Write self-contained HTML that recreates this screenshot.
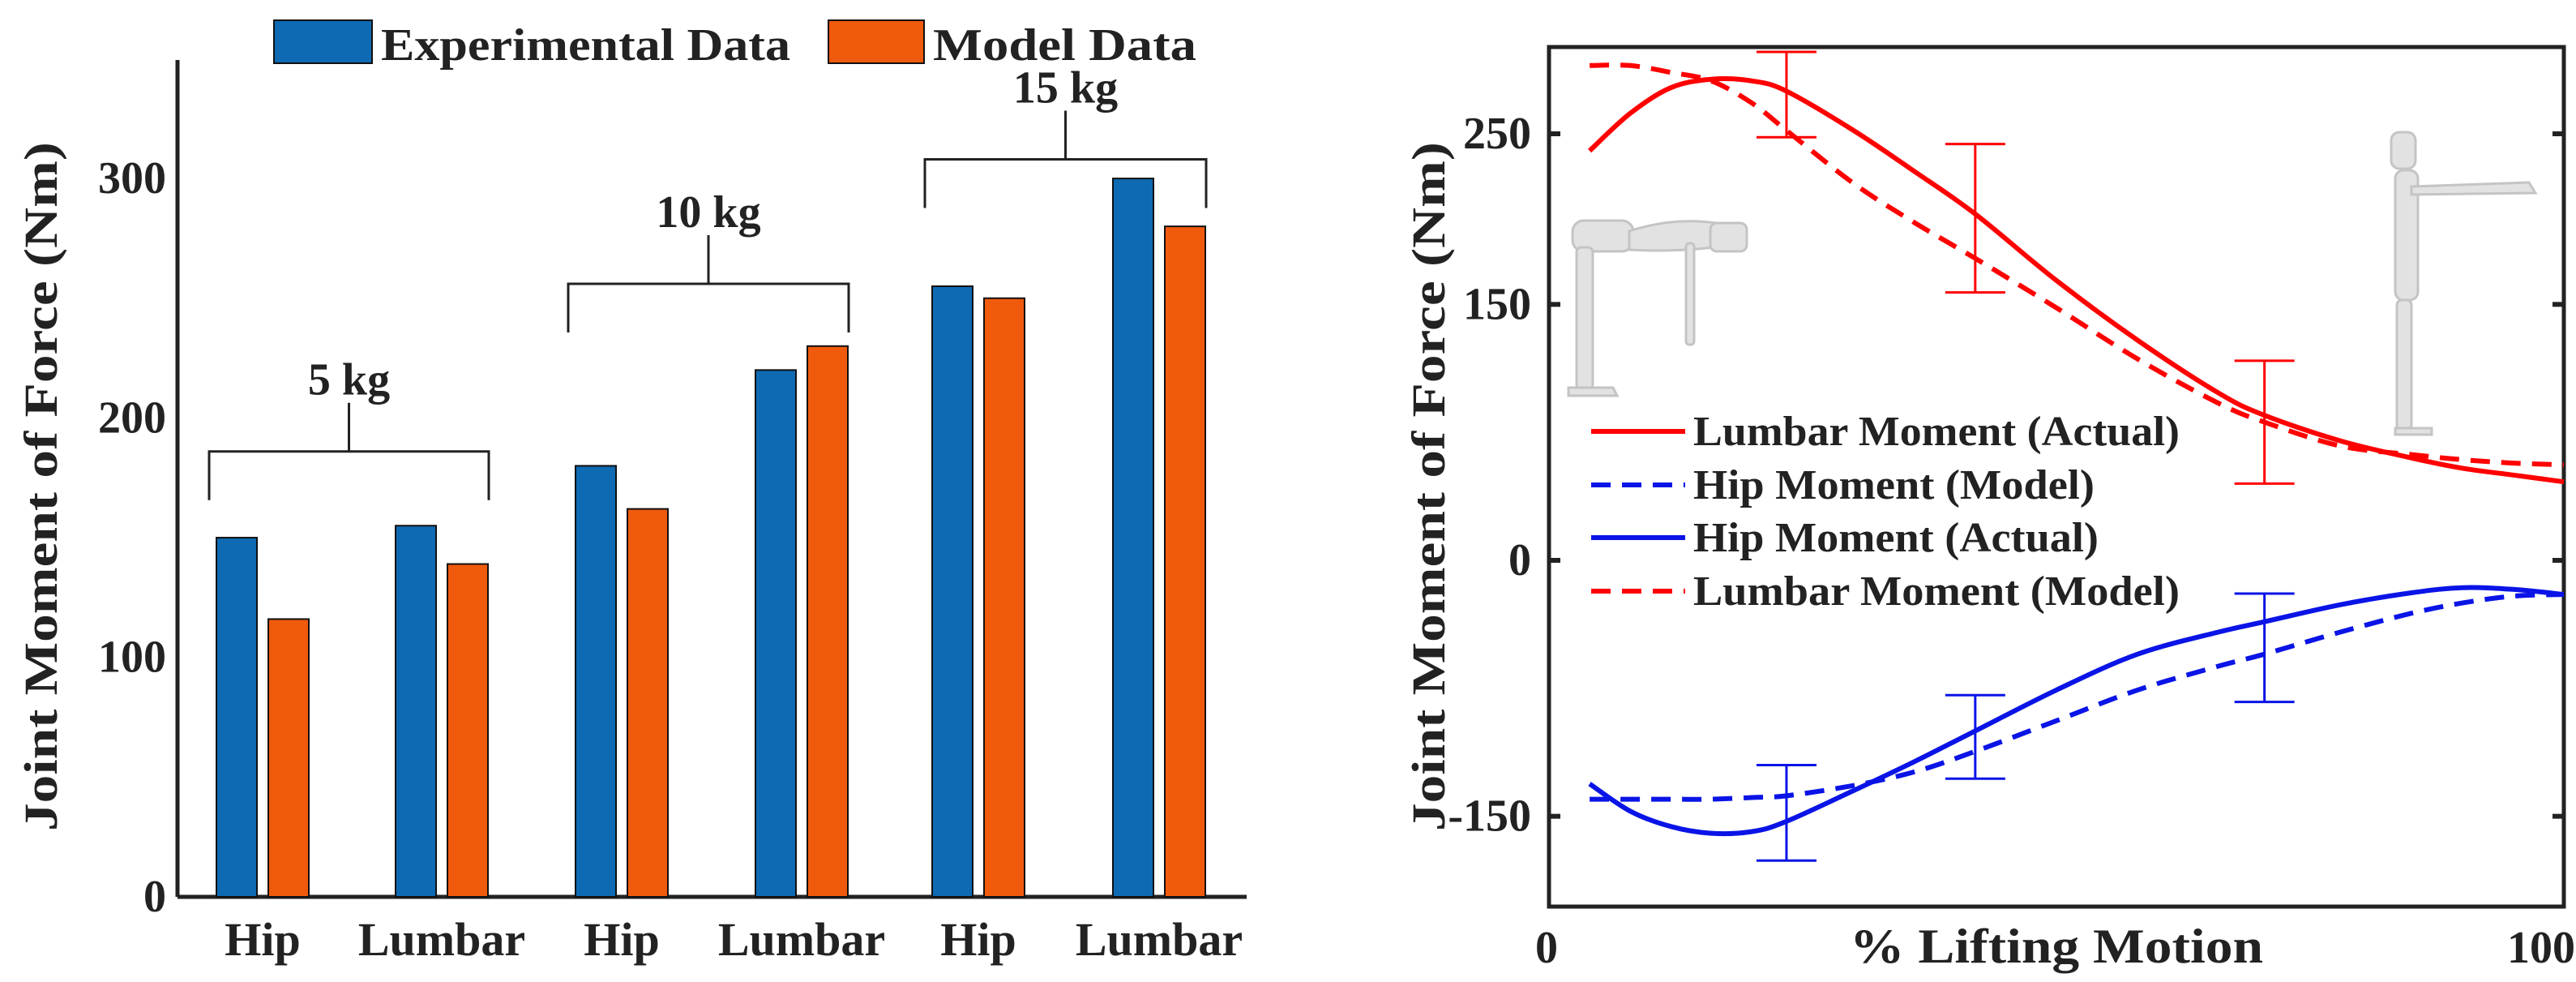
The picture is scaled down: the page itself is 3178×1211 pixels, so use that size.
<!DOCTYPE html>
<html><head><meta charset="utf-8"><style>
html,body{margin:0;padding:0;background:#fff;}
svg{display:block;font-family:"Liberation Serif",serif;font-weight:bold;}
</style></head><body>
<svg id="fig" width="3178" height="1211" viewBox="0 0 3178 1211" xmlns="http://www.w3.org/2000/svg">
<g id="left"></g>
<g id="right">
  <g fill="#e2e2e2" stroke="#c4c4c4" stroke-width="3">
    <rect x="1940" y="272" width="75" height="38" rx="14"/>
    <path d="M2010 285 Q2080 262 2150 282 L2150 300 Q2080 312 2010 308 Z"/>
    <rect x="2110" y="275" width="45" height="35" rx="8"/>
    <rect x="1945" y="305" width="20" height="175" rx="6"/>
    <rect x="2080" y="300" width="10" height="125" rx="4"/>
    <path d="M1935 478 L1990 478 L1995 488 L1935 488 Z"/>
  </g>
  <g fill="#e2e2e2" stroke="#c4c4c4" stroke-width="3">
    <rect x="2950" y="163" width="30" height="45" rx="10"/>
    <rect x="2955" y="210" width="28" height="160" rx="10"/>
    <path d="M2975 230 L3120 225 L3128 238 L2975 240 Z"/>
    <rect x="2957" y="370" width="18" height="160" rx="6"/>
    <path d="M2955 528 L3000 528 L3000 536 L2955 536 Z"/>
  </g>
</g>
</svg>
<script>
// ---------- Bar chart data ----------
const barCategories = ["Hip","Lumbar","Hip","Lumbar","Hip","Lumbar"];
const experimentalValues = [150,155,180,220,255,300];
const modelValues = [116,139,162,230,250,280];
const barTicks = [0,100,200,300];
const groupLabels = ["5 kg","10 kg","15 kg"];
const groupBracketValues = [186,256,308];

// ---------- Line chart data ----------
const xPct = [4,8,12,16,20,23.4,30,36,42,50,58,66,70.5,78,85,90,95,100];
const lumbarActual = [240,262,277,282,281,275,252,228,203,164,129,98,85,70,60,54,50,46];
const lumbarModel = [290,290,286,281,268,252,221,198,177,148,118,92,81,67,62,59,57,56];
const hipActual = [-131,-147,-156,-160,-159,-153,-135,-118,-100,-76,-55,-42,-36,-26,-19,-16,-17,-20];
const hipModel = [-140,-140,-140,-140,-139,-138,-132,-124,-112,-94,-76,-62,-55,-42,-31,-25,-21,-20];
const errX = [23.4,42,70.5];
const lumbarErrLo = [248,157,45];
const lumbarErrHi = [298,244,117];
const hipErrLo = [-176,-128,-83];
const hipErrHi = [-120,-79,-19.5];
const lineTicks = [250,150,0,-150];

const NS="http://www.w3.org/2000/svg";
function mk(parent,tag,attrs,text){const e=document.createElementNS(NS,tag);for(const k in attrs)e.setAttribute(k,attrs[k]);if(text!==undefined)e.textContent=text;parent.appendChild(e);return e;}

// ---- left chart ----
const L=document.getElementById('left');
const lx0=219,lx1=1538,ly0=1106,lyPer=2.953;
const ly=v=>ly0-v*lyPer;
const catCenters=[324,545,767,989,1207,1430];
const barW=50, barGap=14;
let e;
e=mk(L,'line',{x1:lx0,y1:74,x2:lx0,y2:ly0,stroke:'#222','stroke-width':5});


e=mk(L,'line',{x1:lx0,y1:ly0,x2:lx1,y2:ly0,stroke:'#222','stroke-width':5});


barTicks.forEach(t=>{
  e=mk(L,'text',{x:205,y:ly(t)+18,'text-anchor':'end','font-size':56,fill:'#222'},String(t));
  
  
});
barCategories.forEach((c,i)=>{
  const cx=catCenters[i];
  e=mk(L,'rect',{x:cx-barW-barGap/2,y:ly(experimentalValues[i]),width:barW,height:experimentalValues[i]*lyPer,fill:'#0d6ab3',stroke:'#111','stroke-width':2});
  
  
  e=mk(L,'rect',{x:cx+barGap/2,y:ly(modelValues[i]),width:barW,height:modelValues[i]*lyPer,fill:'#f05a0c',stroke:'#111','stroke-width':2});
  
  
  e=mk(L,'text',{x:cx,y:1178,'text-anchor':'middle','font-size':58,fill:'#222'},c);
  
  
});
groupLabels.forEach((g,k)=>{
  const xa=catCenters[2*k]-66, xb=catCenters[2*k+1]+58, yb=ly(groupBracketValues[k]), xm=(xa+xb)/2;
  e=mk(L,'path',{d:`M${xa} ${yb+60}V${yb}H${xb}V${yb+60}M${xm} ${yb}V${yb-60}`,fill:'none',stroke:'#222','stroke-width':3});
  
  
  e=mk(L,'text',{x:xm,y:yb-70,'text-anchor':'middle','font-size':56,fill:'#222'},g);
  
  
});
e=mk(L,'text',{x:0,y:0,transform:'translate(70,600) rotate(-90)','text-anchor':'middle','font-size':58,fill:'#222',textLength:850,lengthAdjust:'spacingAndGlyphs'},'Joint Moment of Force (Nm)');


e=mk(L,'rect',{x:338,y:25,width:121,height:53,fill:'#0d6ab3',stroke:'#111','stroke-width':2});


e=mk(L,'text',{x:470,y:74,'font-size':56,fill:'#222',textLength:505,lengthAdjust:'spacingAndGlyphs'},'Experimental Data');


e=mk(L,'rect',{x:1022,y:25,width:118,height:53,fill:'#f05a0c',stroke:'#111','stroke-width':2});


e=mk(L,'text',{x:1151,y:74,'font-size':56,fill:'#222',textLength:325,lengthAdjust:'spacingAndGlyphs'},'Model Data');



// ---- right chart ----
const R=document.getElementById('right');
const rx0=1911,rx1=3163,ry0=58,ry1=1118;
const rx=p=>rx0+p*(rx1-rx0)/100;
const ry=v=>691-v*2.104;
e=mk(R,'rect',{x:rx0,y:ry0,width:rx1-rx0,height:ry1-ry0,fill:'none',stroke:'#222','stroke-width':5});


lineTicks.forEach(t=>{
  e=mk(R,'path',{d:`M${rx0} ${ry(t)}h14M${rx1} ${ry(t)}h-14`,stroke:'#222','stroke-width':6});
  
  
  e=mk(R,'text',{x:1889,y:ry(t)+18,'text-anchor':'end','font-size':56,fill:'#222'},String(t));
  
  
});
e=mk(R,'text',{x:rx0-3,y:1187,'text-anchor':'middle','font-size':56,fill:'#222'},'0');


e=mk(R,'text',{x:3135,y:1187,'text-anchor':'middle','font-size':56,fill:'#222'},'100');


e=mk(R,'text',{x:2537,y:1187,'text-anchor':'middle','font-size':60,fill:'#222',textLength:510,lengthAdjust:'spacingAndGlyphs'},'% Lifting Motion');


e=mk(R,'text',{x:0,y:0,transform:'translate(1782,600) rotate(-90)','text-anchor':'middle','font-size':58,fill:'#222',textLength:850,lengthAdjust:'spacingAndGlyphs'},'Joint Moment of Force (Nm)');



function smoothPath(vals){
  const P=vals.map((v,i)=>[rx(xPct[i]),ry(v)]);
  let d=`M${P[0][0].toFixed(1)} ${P[0][1].toFixed(1)}`;
  for(let i=0;i<P.length-1;i++){
    const p0=P[i-1]||P[i],p1=P[i],p2=P[i+1],p3=P[i+2]||P[i+1];
    const c1=[p1[0]+(p2[0]-p0[0])/6,p1[1]+(p2[1]-p0[1])/6];
    const c2=[p2[0]-(p3[0]-p1[0])/6,p2[1]-(p3[1]-p1[1])/6];
    d+=` C${c1[0].toFixed(1)} ${c1[1].toFixed(1)} ${c2[0].toFixed(1)} ${c2[1].toFixed(1)} ${p2[0].toFixed(1)} ${p2[1].toFixed(1)}`;
  }
  return d;
}
function series(vals,color,dash,name){
  const p=mk(R,'path',{d:smoothPath(vals),fill:'none',stroke:color,'stroke-width':6,'stroke-linejoin':'round'});
  if(dash)p.setAttribute('stroke-dasharray','24 14');
  
  
}
series(lumbarActual,'#f00',false,'line-lumbar-actual');
series(lumbarModel,'#f00',true,'line-lumbar-model');
series(hipActual,'#0a14e6',false,'line-hip-actual');
series(hipModel,'#0a14e6',true,'line-hip-model');
function errs(lo,hi,color,name){
  errX.forEach((x,i)=>{
    const X=rx(x);
    const p=mk(R,'path',{d:`M${X} ${ry(lo[i])}V${ry(hi[i])}M${X-37} ${ry(lo[i])}h74M${X-37} ${ry(hi[i])}h74`,stroke:color,'stroke-width':3,fill:'none'});
    
    
  });
}
errs(lumbarErrLo,lumbarErrHi,'#f00','error-bar-lumbar');
errs(hipErrLo,hipErrHi,'#0a14e6','error-bar-hip');

const legItems=[['Lumbar Moment (Actual)','#f00',false,600],['Hip Moment (Model)','#0a14e6',true,495],['Hip Moment (Actual)','#0a14e6',false,500],['Lumbar Moment (Model)','#f00',true,600]];
const legY=[532,598,663,729];
legItems.forEach((it,i)=>{
  const l=mk(R,'line',{x1:1963,y1:legY[i],x2:2079,y2:legY[i],stroke:it[1],'stroke-width':6});
  if(it[2])l.setAttribute('stroke-dasharray','24 14');
  
  
  const t=mk(R,'text',{x:2089,y:legY[i]+17,'font-size':52,fill:'#222',textLength:it[3],lengthAdjust:'spacingAndGlyphs'},it[0]);
  
  
});
</script>
</body></html>
